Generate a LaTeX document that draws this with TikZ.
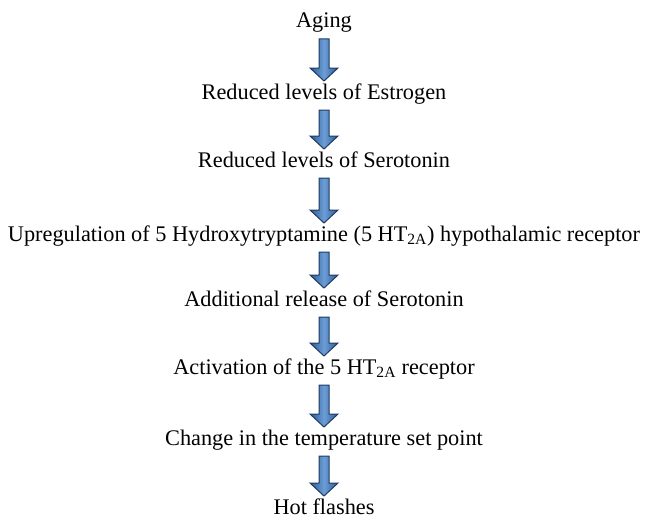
\documentclass[tikz,border=0pt]{standalone}
\usepackage{fontspec}
\setmainfont{Liberation Serif}
\usetikzlibrary{calc}
\definecolor{arrowEdge}{HTML}{1E3B63}
\definecolor{arrowDark}{HTML}{2D5A92}
\definecolor{arrowLight}{HTML}{6C9DD6}
\newcommand\flowArrow[2]{%
	\path[flowArrowStyle] let \p1=($(#1.base)+(0pt,-11pt)$), \p2=($(#2.base)+(0pt,18pt)$) in
		(\x1-5pt,\y1) -- (\x1+5pt,\y1) -- (\x1+5pt,\y2+13pt) -- (\x1+14pt,\y2+13pt)
		-- (\x1,\y2) -- (\x1-14pt,\y2+13pt) -- (\x1-5pt,\y2+13pt) -- cycle;}

\begin{document}
\begin{tikzpicture}[x=1pt, y=-1pt,
	stepText/.style={anchor=base, inner sep=0pt, font=\fontsize{22.3}{26}\selectfont},
	flowArrowStyle/.style={draw=arrowEdge, line width=1pt, left color=arrowDark, right color=arrowDark, middle color=arrowLight}]
	\useasboundingbox (0,0) rectangle (647,519);
					\node[stepText] (aging) at (324,28) {Aging};
					\node[stepText] (estrogen) at (324,99) {Reduced levels of Estrogen};
					\node[stepText] (serotonin) at (324,167) {Reduced levels of Serotonin};
					\node[stepText] (upregulation) at (324,241) {Upregulation of 5 Hydroxytryptamine (5 HT\textsubscript{2A}) hypothalamic receptor};
					\node[stepText] (release) at (324,306) {Additional release of Serotonin};
					\node[stepText] (activation) at (324,374) {Activation of the 5 HT\textsubscript{2A} receptor};
					\node[stepText] (setpoint) at (324,445) {Change in the temperature set point};
					\node[stepText] (flashes) at (324,514) {Hot flashes};
					\foreach \from/\to in {aging/estrogen, estrogen/serotonin, serotonin/upregulation, upregulation/release, release/activation, activation/setpoint, setpoint/flashes}
						\flowArrow{\from}{\to};
				\end{tikzpicture}
\end{document}
